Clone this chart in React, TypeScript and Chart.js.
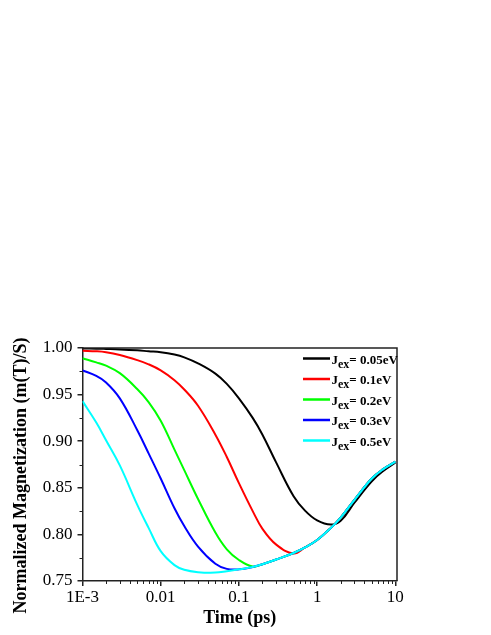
import React, { useEffect, useRef } from 'react';
import { Chart, registerables } from 'chart.js';

Chart.register(...registerables);

// Time (ps), log axis
const time = [0.001, 0.0015, 0.002, 0.003, 0.005, 0.007, 0.01, 0.015, 0.02, 0.03, 0.05, 0.07, 0.1, 0.15, 0.2, 0.3, 0.5, 0.7, 1, 1.5, 2, 3, 5, 7, 10];

// Normalized magnetization for each exchange energy
const jex005 = [0.9995, 0.9993, 0.999, 0.9985, 0.9975, 0.9965, 0.9955, 0.993, 0.990, 0.9835, 0.9725, 0.9615, 0.946, 0.925, 0.907, 0.877, 0.841, 0.8255, 0.815, 0.8105, 0.8145, 0.834, 0.857, 0.868, 0.877];
const jex01 = [0.997, 0.9965, 0.9955, 0.9925, 0.987, 0.9825, 0.976, 0.9655, 0.9555, 0.938, 0.907, 0.883, 0.855, 0.825, 0.806, 0.789, 0.7795, 0.786, 0.794, 0.807, 0.818, 0.837, 0.860, 0.870, 0.878];
const jex02 = [0.989, 0.9846, 0.981, 0.973, 0.956, 0.942, 0.922, 0.891, 0.869, 0.838, 0.802, 0.784, 0.7725, 0.7655, 0.768, 0.773, 0.780, 0.786, 0.794, 0.807, 0.818, 0.837, 0.860, 0.870, 0.878];
const jex03 = [0.976, 0.970, 0.963, 0.946, 0.912, 0.887, 0.860, 0.828, 0.809, 0.787, 0.7685, 0.763, 0.7625, 0.765, 0.768, 0.773, 0.780, 0.786, 0.794, 0.807, 0.818, 0.837, 0.860, 0.870, 0.878];
const jex05 = [0.943, 0.920, 0.901, 0.874, 0.832, 0.807, 0.782, 0.767, 0.762, 0.7595, 0.759, 0.7605, 0.7625, 0.765, 0.768, 0.773, 0.780, 0.786, 0.794, 0.807, 0.818, 0.837, 0.860, 0.870, 0.878];

const seriesValues = [jex005, jex01, jex02, jex03, jex05];
const seriesLabels = ['0.05eV', '0.1eV', '0.2eV', '0.3eV', '0.5eV'];
const seriesColors = ['#000000', '#ff0000', '#00ff00', '#0000ff', '#00ffff'];

const yTicks = [0.75, 0.8, 0.85, 0.9, 0.95, 1.0];
const yMinorTicks = [0.775, 0.825, 0.875, 0.925, 0.975];
const xTicks = [0.001, 0.01, 0.1, 1, 10];
const xTickLabels = ['1E-3', '0.01', '0.1', '1', '10'];
const xMinorMultipliers = [2, 3, 4, 5, 6, 7, 8, 9];
const yTitle = 'Normalized Magnetization (m(T)/S)';
const xTitle = 'Time (ps)';

const SERIF = "'Liberation Serif', 'Times New Roman', serif";
const AXIS_COLOR = '#222222';

const framePlugin = {
  id: 'frame',
  afterDatasetsDraw(chart: any) {
    const { ctx, chartArea } = chart;
    ctx.save();
    ctx.strokeStyle = AXIS_COLOR;
    ctx.lineWidth = 1.5;
    ctx.beginPath();
    ctx.moveTo(chartArea.left, chartArea.top);
    ctx.lineTo(chartArea.right, chartArea.top);
    ctx.lineTo(chartArea.right, chartArea.bottom);
    ctx.stroke();
    ctx.restore();
  },
};

const minorTicksPlugin = {
  id: 'minorTicks',
  afterDraw(chart: any) {
    const { ctx, chartArea, scales } = chart;
    ctx.save();
    ctx.strokeStyle = AXIS_COLOR;
    ctx.lineWidth = 1;
    ctx.beginPath();
    yMinorTicks.forEach((v) => {
      const y = Math.round(scales.y.getPixelForValue(v)) + 0.5;
      ctx.moveTo(chartArea.left, y);
      ctx.lineTo(chartArea.left - 3, y);
    });
    xTicks.slice(0, -1).forEach((d) => {
      xMinorMultipliers.forEach((m) => {
        const v = d * m;
        const x = Math.round(scales.x.getPixelForValue(v)) + 0.5;
        ctx.moveTo(x, chartArea.bottom);
        ctx.lineTo(x, chartArea.bottom + 3);
      });
    });
    ctx.stroke();
    ctx.restore();
  },
};

const yTitlePlugin = {
  id: 'yTitle',
  afterDraw(chart: any) {
    const { ctx, chartArea } = chart;
    ctx.save();
    ctx.translate(21, (chartArea.top + chartArea.bottom) / 2 + 11);
    ctx.rotate(-Math.PI / 2);
    ctx.font = `bold 18px ${SERIF}`;
    ctx.fillStyle = '#000';
    ctx.textAlign = 'center';
    ctx.textBaseline = 'middle';
    ctx.fillText(yTitle, 0, 0);
    ctx.restore();
  },
};

const legendPlugin = {
  id: 'customLegend',
  afterDraw(chart: any) {
    const { ctx, chartArea } = chart;
    ctx.save();
    const x0 = chartArea.right - 94;
    const x1 = chartArea.right - 67;
    seriesLabels.forEach((lab, i) => {
      const y = chartArea.top + 10.5 + i * 20.5;
      ctx.strokeStyle = seriesColors[i];
      ctx.lineWidth = 2.5;
      ctx.beginPath();
      ctx.moveTo(x0, y);
      ctx.lineTo(x1, y);
      ctx.stroke();
      ctx.fillStyle = '#000';
      ctx.textBaseline = 'alphabetic';
      ctx.textAlign = 'left';
      let tx = x1 + 1.5;
      ctx.font = `bold 13px ${SERIF}`;
      ctx.fillText('J', tx, y + 5);
      tx += ctx.measureText('J').width;
      ctx.font = `bold 12px ${SERIF}`;
      ctx.fillText('ex', tx, y + 9);
      tx += ctx.measureText('ex').width;
      ctx.font = `bold 13px ${SERIF}`;
      ctx.fillText('= ' + lab, tx, y + 5);
    });
    ctx.restore();
  },
};

export default function App() {
  const canvasRef = useRef<HTMLCanvasElement | null>(null);

  useEffect(() => {
    if (!canvasRef.current) return;
    const datasets = seriesValues.map((vals, i) => ({
      label: 'Jex= ' + seriesLabels[i],
      data: time.map((t, k) => ({ x: t, y: vals[k] })),
      borderColor: seriesColors[i],
      backgroundColor: seriesColors[i],
      borderWidth: 2,
      pointRadius: 0,
      fill: false,
      tension: 0.4,
      order: seriesValues.length - i,
    }));

    const chart = new Chart(canvasRef.current, {
      type: 'line',
      data: { datasets },
      plugins: [framePlugin, minorTicksPlugin, yTitlePlugin, legendPlugin],
      options: {
        animation: false,
        responsive: false,
        devicePixelRatio: 1,
        layout: { padding: { top: 348, right: 94, bottom: 0, left: 0 } },
        plugins: {
          legend: { display: false },
          tooltip: { enabled: false },
        },
        scales: {
          x: {
            type: 'logarithmic',
            min: 0.001,
            max: 10.5,
            afterBuildTicks: (s: any) => {
              s.ticks = xTicks.map((v) => ({ value: v }));
            },
            afterFit: (s: any) => {
              s.height = 54;
            },
            ticks: {
              callback: (_v: any, idx: number) => xTickLabels[idx],
              font: { family: SERIF, size: 17 },
              color: '#000',
              padding: 1,
              maxRotation: 0,
              autoSkip: false,
            },
            grid: {
              display: true,
              drawOnChartArea: false,
              drawTicks: true,
              tickLength: 5,
              color: AXIS_COLOR,
              lineWidth: 1.5,
            },
            border: { display: true, color: AXIS_COLOR, width: 1.5 },
            title: {
              display: true,
              text: xTitle,
              font: { family: SERIF, size: 18, weight: 'bold' },
              color: '#000',
              padding: { top: 0, bottom: 6 },
            },
          },
          y: {
            type: 'linear',
            min: 0.75,
            max: 1.0,
            afterBuildTicks: (s: any) => {
              s.ticks = yTicks.map((v) => ({ value: v }));
            },
            afterFit: (s: any) => {
              s.width = 82.5;
            },
            ticks: {
              callback: (v: any) => Number(v).toFixed(2),
              font: { family: SERIF, size: 17 },
              color: '#000',
              padding: 5,
              autoSkip: false,
            },
            grid: {
              display: true,
              drawOnChartArea: false,
              drawTicks: true,
              tickLength: 5,
              color: AXIS_COLOR,
              lineWidth: 1.5,
            },
            border: { display: true, color: AXIS_COLOR, width: 1.5 },
            title: { display: false },
          },
        },
      } as any,
    });
    return () => chart.destroy();
  }, []);

  return (
    <div style={{ position: 'absolute', left: 0, top: 0, width: 491, height: 635, background: '#fff' }}>
      <canvas ref={canvasRef} width={491} height={635} style={{ display: 'block' }} />
    </div>
  );
}
